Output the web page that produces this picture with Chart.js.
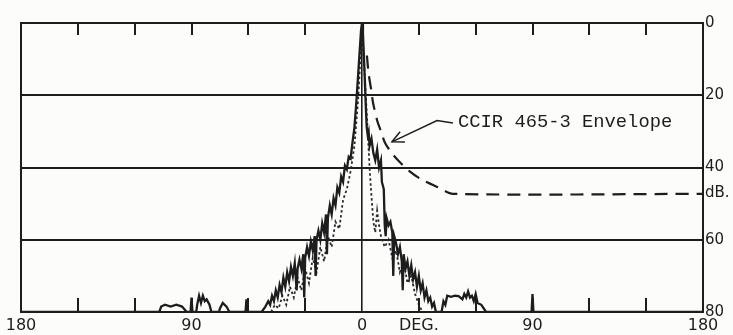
<!DOCTYPE html>
<html>
<head>
<meta charset="utf-8">
<script src="https://cdn.jsdelivr.net/npm/chart.js@4"></script>
<style>
  html, body { margin: 0; padding: 0; background: #fcfcfb; }
  #wrap { width: 733px; height: 335px; position: relative; }
</style>
</head>
<body>
<div id="wrap"><canvas id="pattern"></canvas></div>
<script>
// measured pattern, solid trace (angle in deg, level in dB below peak)
const solidAngles = [-180, -107, -106, -104, -101, -98, -95, -92.5, -90.5, -90, -89.5, -87.5, -87, -86, -85, -84, -83, -82, -80.5, -79.5,
  -75.5, -75, -73.5, -71.5, -70, -61.5, -61, -60.5, -53, -51, -49.5, -48.5, -47.5, -46.5, -45.5, -44.5, -43.5, -42.5, -41.5, -40.5,
  -39.5, -38.5, -37.5, -36.5, -35.5, -34.5, -34, -33, -32, -31, -30.5, -30, -29, -28, -27, -26, -25, -24.5, -24, -23,
  -22, -21, -20, -19, -18.5, -18, -17, -16, -15, -14, -13, -12, -11, -10, -9, -8, -7, -6, -5, -4,
  -3, -2, -1, -0.5, 0, 0.5, 1, 1.5, 2, 2.5, 3, 3.5, 4, 5, 6, 7, 8, 9, 10, 10.5,
  11.5, 12, 12.5, 13, 14, 15, 16, 16.5, 17, 18, 19, 20, 21, 21.5, 22, 23, 24, 25, 26, 27,
  28, 29, 30, 31, 32, 33, 34, 35, 36, 37, 38, 39, 42, 43, 44, 45, 47, 49, 51, 53,
  54, 55, 56, 57, 58, 59, 60, 61, 63, 65.5, 89.5, 90, 90.5, 180];
const solidLevels = [80, 80, 78.5, 78, 78.5, 78, 78.5, 80, 80, 76, 80, 80, 78, 75.5, 77.5, 75.5, 77, 76.5, 78, 80,
  80, 79, 77.5, 78.5, 80, 80, 76.5, 80, 80, 78.5, 77, 78, 75.5, 77, 74, 76, 72.5, 74.5, 70.5, 73,
  69, 71.5, 67.5, 70, 66.5, 74, 68, 65.5, 68, 64, 76, 65, 62, 64.5, 60.5, 63, 59, 70, 60, 57.5,
  60, 55.5, 58, 53, 64, 54, 50.5, 53, 48.5, 50.5, 45.5, 47, 42.5, 44, 39.5, 40.5, 37, 37.5, 33, 29,
  22, 14, 6, 2, 0, 3, 9, 16, 23, 29, 31, 30, 34, 32, 36, 38, 35, 40, 38, 44,
  46, 56, 59, 54, 56, 55, 58, 70, 59, 61, 64, 62, 66, 74, 64, 68, 66, 70, 67, 71,
  69, 73, 70, 74, 72, 76, 74, 77, 76, 78.5, 77.5, 80, 80, 77, 78, 75.5, 75.8, 75.5, 75.6, 76.5,
  75, 76, 74.3, 76, 75.5, 77, 75, 77.5, 78, 80, 80, 75, 80, 80];

// second measured trace, dotted
const dottedAngles = [-48, -46, -44, -42, -40, -38, -36, -34, -32, -30, -28, -26, -24, -22, -20, -18, -16, -14, -12, -10,
  -8, -6, -4, -2, -1, 0, 1, 2, 3, 4, 5, 6, 7, 8, 9, 10, 12, 14, 16, 18,
  20, 22, 24, 26, 28, 30, 32];
const dottedLevels = [80, 78, 79, 75.5, 78, 73, 76, 70.5, 74, 68, 72, 65, 69, 62, 66, 59, 62, 55, 57, 49,
  46, 41, 34, 21, 11, 3, 10, 20, 30, 40, 48, 55, 58, 52, 56, 59, 62, 60, 65, 63,
  69, 66, 72, 70, 75, 78, 80];

// CCIR 465-3 reference envelope, dashed
const envelopeAngles = [2.6, 3.5, 5, 5.8, 8, 10, 12, 15, 19, 25, 31.7, 41, 48, 180];
const envelopeLevels = [9, 14, 19, 22, 27, 30, 33, 35.5, 38, 41, 43.4, 45.7, 47.3, 47.3];

const xTickValues = [-180, -150, -120, -90, -60, -30, 0, 30, 60, 90, 120, 150, 180];
const xTickLabels = ['180', '', '', '90', '', '', '0', 'DEG.', '', '90', '', '', '180'];
const yTickValues = [0, 20, 40, 47, 60, 80];
const yTickLabels = ['0', '20', '40', 'dB.', '60', '80'];

const envelopeLabel = 'CCIR 465-3 Envelope';

const INK = '#1d1d1d';

function pairs(xs, ys){
    return xs.map((x, i) => ({ x: x, y: ys[i] }))
}

const framePlugin = {
    id: 'frame',
    afterDraw(chart){
        const ctx = chart.ctx;
        const a = chart.chartArea;
        const xs = chart.scales.x;
        const ys = chart.scales.y;
        ctx.save();
        ctx.strokeStyle = INK;
        ctx.lineWidth = 2;
        ctx.strokeRect(a.left, a.top, a.right - a.left, a.bottom - a.top);
        // short inward tick marks, top and bottom
        xTickValues.forEach(v => {
            if (v === -180 || v === 0 || v === 180) return;
            const px = Math.round(xs.getPixelForValue(v));
            ctx.beginPath();
            ctx.moveTo(px, a.top); ctx.lineTo(px, a.top + 12);
            ctx.moveTo(px, a.bottom); ctx.lineTo(px, a.bottom - 14);
            ctx.stroke();
        });
        // label and arrow pointing at the envelope
        const tx = xs.getPixelForValue(50.7), ty = ys.getPixelForValue(27.4);
        ctx.fillStyle = INK;
        ctx.font = '18.8px "Liberation Mono", "DejaVu Sans Mono", monospace';
        ctx.textBaseline = 'middle';
        ctx.fillText(envelopeLabel, tx, ty);
        const p1 = [xs.getPixelForValue(48), ys.getPixelForValue(27.7)];
        const p2 = [xs.getPixelForValue(39.6), ys.getPixelForValue(27.0)];
        const tip = [xs.getPixelForValue(15.8), ys.getPixelForValue(32.9)];
        ctx.lineWidth = 1.5;
        ctx.beginPath();
        ctx.moveTo(p1[0], p1[1]);
        ctx.lineTo(p2[0], p2[1]);
        ctx.lineTo(tip[0], tip[1]);
        ctx.stroke();
        const ang = Math.atan2(p2[1] - tip[1], p2[0] - tip[0]);
        ctx.beginPath();
        ctx.moveTo(tip[0] + 13 * Math.cos(ang - 0.45), tip[1] + 13 * Math.sin(ang - 0.45));
        ctx.lineTo(tip[0], tip[1]);
        ctx.lineTo(tip[0] + 13 * Math.cos(ang + 0.45), tip[1] + 13 * Math.sin(ang + 0.45));
        ctx.stroke();
        ctx.restore();
    }
};

new Chart(document.getElementById('pattern'), {
    type: 'line',
    data: {
        datasets: [
            {
                label: 'measured',
                data: pairs(solidAngles, solidLevels),
                borderColor: INK,
                borderWidth: 2.3,
                pointRadius: 0,
                tension: 0,
            },
            {
                label: 'measured (second cut)',
                data: pairs(dottedAngles, dottedLevels),
                borderColor: '#2a2a2a',
                borderWidth: 1.8,
                borderDash: [2.5, 2.5],
                pointRadius: 0,
                tension: 0,
            },
            {
                label: envelopeLabel,
                data: pairs(envelopeAngles, envelopeLevels),
                borderColor: INK,
                borderWidth: 2.2,
                borderDash: [13, 8],
                pointRadius: 0,
                tension: 0.3,
            }
        ]
    },
    options: {
        responsive: true,
        maintainAspectRatio: false,
        animation: false,
        layout: { padding: { left: 21, top: 23, right: 0, bottom: 0 } },
        plugins: { legend: { display: false }, tooltip: { enabled: false } },
        scales: {
            x: {
                type: 'linear',
                min: -180,
                max: 180,
                afterBuildTicks: (s) => { s.ticks = xTickValues.map(v => ({ value: v })) },
                afterFit: (s) => { s.height = 23 },
                border: { display: false },
                grid: {
                    drawTicks: false,
                    lineWidth: 1.6,
                    color: (c) => (c.tick && c.tick.value === 0) ? INK : 'transparent',
                },
                ticks: {
                    autoSkip: false,
                    maxRotation: 0,
                    padding: 4,
                    color: INK,
                    font: { family: '"DejaVu Sans", sans-serif', size: 16 },
                    callback: (v) => xTickLabels[xTickValues.indexOf(v)] || '',
                }
            },
            y: {
                type: 'linear',
                position: 'right',
                reverse: true,
                min: 0,
                max: 80,
                afterBuildTicks: (s) => { s.ticks = yTickValues.map(v => ({ value: v })) },
                afterFit: (s) => { s.width = 30 },
                border: { display: false },
                grid: {
                    drawTicks: false,
                    lineWidth: 2,
                    color: (c) => (c.tick && [20, 40, 60].includes(c.tick.value)) ? INK : 'transparent',
                },
                ticks: {
                    padding: 2,
                    color: INK,
                    font: { family: '"DejaVu Sans", sans-serif', size: 15 },
                    callback: (v) => yTickLabels[yTickValues.indexOf(v)],
                }
            }
        }
    },
    plugins: [framePlugin]
});
</script>
</body>
</html>
